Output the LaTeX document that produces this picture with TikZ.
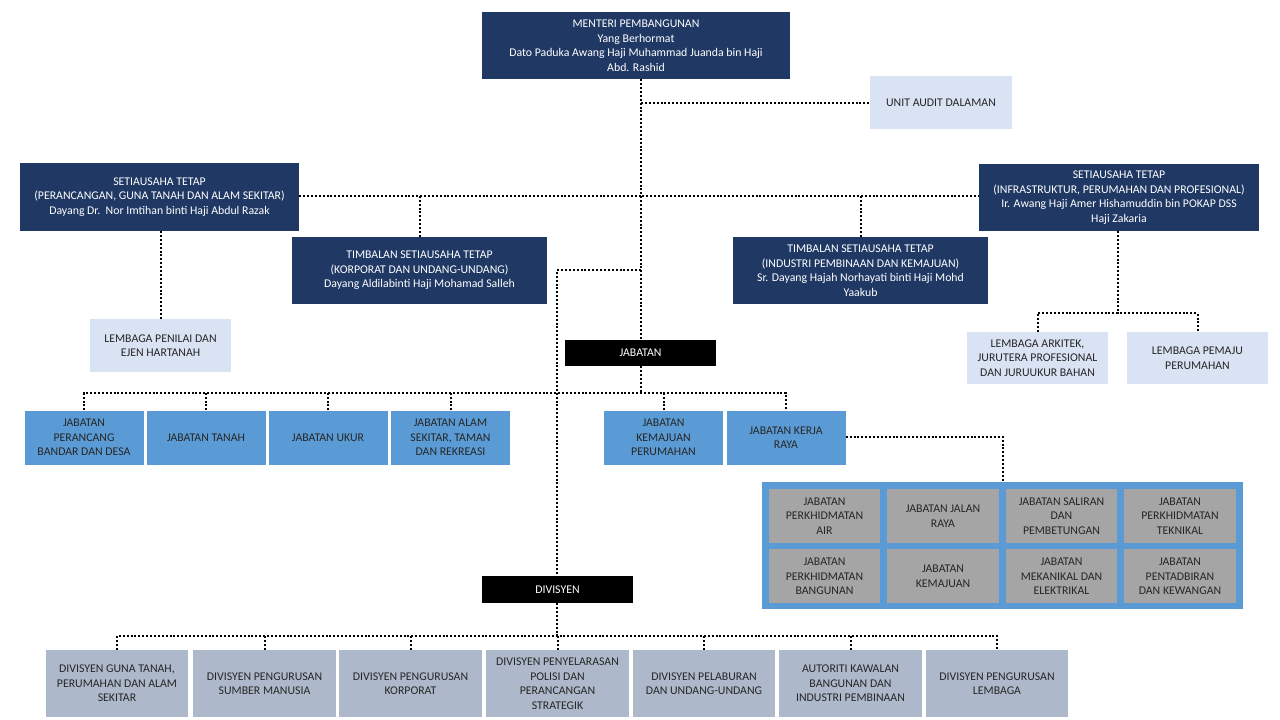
\documentclass[tikz,border=0pt]{standalone}
\usepackage{fontspec}
\setmainfont{Carlito}
\definecolor{navy}{HTML}{203864}
\definecolor{lblue}{HTML}{DAE3F3}
\definecolor{mblue}{HTML}{5B9BD5}
\definecolor{greyb}{HTML}{A5A5A5}
\definecolor{divb}{HTML}{ADB9CA}
\definecolor{txt}{HTML}{262626}
\begin{document}
\begin{tikzpicture}[x=1pt,y=-1pt,
  base/.style={inner sep=0pt, align=center, font=\fontsize{11.8}{14.5}\selectfont},
  dark/.style={base, fill=navy, text=white},
  light/.style={base, fill=lblue, text=txt},
  mid/.style={base, fill=mblue, text=txt, minimum width=119pt, minimum height=54pt},
  greybox/.style={base, fill=greyb, text=txt, minimum width=111.5pt, minimum height=54pt},
  divbox/.style={base, fill=divb, text=txt, minimum width=142.5pt, minimum height=67pt},
  blk/.style={base, fill=black, text=white, minimum width=151pt, minimum height=26pt},
  conn/.style={draw=black, line width=2pt, dash pattern=on 2pt off 1.9pt}]
\useasboundingbox[fill=white] (0,0) rectangle (1280,720);

% top
\node[dark, minimum width=308pt, minimum height=67pt] (menteri) at (636,45.5)
  {MENTERI PEMBANGUNAN\\Yang Berhormat\\Dato Paduka Awang Haji Muhammad Juanda bin Haji\\Abd. Rashid};
\node[light, minimum width=142pt, minimum height=53pt] (audit) at (941,102.5) {UNIT AUDIT DALAMAN};

\node[dark, minimum width=279pt, minimum height=68pt] (lset) at (159.5,197)
  {SETIAUSAHA TETAP\\(PERANCANGAN, GUNA TANAH DAN ALAM SEKITAR)\\Dayang Dr.\ \ Nor Imtihan binti Haji Abdul Razak};
\node[dark, minimum width=280pt, minimum height=67pt] (rset) at (1119,197.5)
  {SETIAUSAHA TETAP\\(INFRASTRUKTUR, PERUMAHAN DAN PROFESIONAL)\\Ir. Awang Haji Amer Hishamuddin bin POKAP DSS\\Haji Zakaria};
\node[dark, minimum width=255pt, minimum height=67pt] (ltimb) at (419.5,270.5)
  {TIMBALAN SETIAUSAHA TETAP\\(KORPORAT DAN UNDANG-UNDANG)\\Dayang Aldilabinti Haji Mohamad Salleh};
\node[dark, minimum width=255pt, minimum height=67pt] (rtimb) at (860.5,270.5)
  {TIMBALAN SETIAUSAHA TETAP\\(INDUSTRI PEMBINAAN DAN KEMAJUAN)\\Sr. Dayang Hajah Norhayati binti Haji Mohd\\Yaakub};

\node[light, minimum width=141pt, minimum height=53pt] (penilai) at (160.5,345.5) {LEMBAGA PENILAI DAN\\EJEN HARTANAH};
\node[light, minimum width=141pt, minimum height=52pt] (arkitek) at (1037.5,358) {LEMBAGA ARKITEK,\\JURUTERA PROFESIONAL\\DAN JURUUKUR BAHAN};
\node[light, minimum width=141pt, minimum height=52pt] (pemaju) at (1197.5,358) {LEMBAGA PEMAJU\\PERUMAHAN};

\node[blk] (jab) at (640.5,353) {JABATAN};

% jabatan row
\node[mid] (ja1) at (84,437.5) {JABATAN\\PERANCANG\\BANDAR DAN DESA};
\node[mid] (ja2) at (206,437.5) {JABATAN TANAH};
\node[mid] (ja3) at (328,437.5) {JABATAN UKUR};
\node[mid] (ja4) at (450.5,437.5) {JABATAN ALAM\\SEKITAR, TAMAN\\DAN REKREASI};
\node[mid] (ja5) at (663.5,437.5) {JABATAN\\KEMAJUAN\\PERUMAHAN};
\node[mid] (ja6) at (786,437.5) {JABATAN KERJA\\RAYA};

% container
\node[fill=mblue, inner sep=0pt, minimum width=481pt, minimum height=127pt] (cont) at (1002.5,545.7) {};
\node[greybox] (g1) at (824.5,516) {JABATAN\\PERKHIDMATAN\\AIR};
\node[greybox] (g2) at (943,516) {JABATAN JALAN\\RAYA};
\node[greybox] (g3) at (1061.5,516) {JABATAN SALIRAN\\DAN\\PEMBETUNGAN};
\node[greybox] (g4) at (1180,516) {JABATAN\\PERKHIDMATAN\\TEKNIKAL};
\node[greybox] (g5) at (824.5,576.3) {JABATAN\\PERKHIDMATAN\\BANGUNAN};
\node[greybox] (g6) at (943,576.3) {JABATAN\\KEMAJUAN};
\node[greybox] (g7) at (1061.5,576.3) {JABATAN\\MEKANIKAL DAN\\ELEKTRIKAL};
\node[greybox] (g8) at (1180,576.3) {JABATAN\\PENTADBIRAN\\DAN KEWANGAN};

% divisyen
\node[blk, minimum width=151pt, minimum height=27pt] (div) at (557.5,589.5) {DIVISYEN};
\node[divbox] (dv1) at (117,683.5) {DIVISYEN GUNA TANAH,\\PERUMAHAN DAN ALAM\\SEKITAR};
\node[divbox] (dv2) at (264.5,683.5) {DIVISYEN PENGURUSAN\\SUMBER MANUSIA};
\node[divbox] (dv3) at (410.5,683.5) {DIVISYEN PENGURUSAN\\KORPORAT};
\node[divbox] (dv4) at (557.5,683.5) {DIVISYEN PENYELARASAN\\POLISI DAN\\PERANCANGAN\\STRATEGIK};
\node[divbox] (dv5) at (704,683.5) {DIVISYEN PELABURAN\\DAN UNDANG-UNDANG};
\node[divbox] (dv6) at (850.5,683.5) {AUTORITI KAWALAN\\BANGUNAN DAN\\INDUSTRI PEMBINAAN};
\node[divbox] (dv7) at (997,683.5) {DIVISYEN PENGURUSAN\\LEMBAGA};

% junction coordinates
\coordinate (s1) at (641,196);
\coordinate (s2) at (557,270);
\coordinate (r1) at (1118,313);
\coordinate (j1) at (641,393);
\coordinate (k1) at (1003,437);
\coordinate (d1) at (557,636);

% connectors
\draw[conn] (menteri.south -| s1) -- (jab.north -| s1);
\draw[conn] (s1 |- audit.west) -- (audit.west);
\draw[conn] (lset.east |- s1) -- (rset.west |- s1);
\draw[conn] (ltimb.north) -- (ltimb.north |- s1);
\draw[conn] (rtimb.north) -- (rtimb.north |- s1);
\draw[conn] (penilai.north) -- (penilai.north |- lset.south);
\draw[conn] (rset.south -| r1) -- (r1);
\draw[conn] (arkitek.north) |- (r1) -| (pemaju.north);
\draw[conn] (s1 |- s2) -- (s2) -- (div.north -| s2);
\draw[conn] (jab.south -| j1) -- (j1);
\draw[conn] (ja1.north) |- (j1) -| (ja6.north);
\foreach \n in {ja2,ja3,ja4,ja5} \draw[conn] (\n.north) -- (\n.north |- j1);
\draw[conn] (ja6.east |- k1) -| (cont.north -| k1);
\draw[conn] (div.south -| d1) -- (d1);
\draw[conn] (dv1.north) |- (d1) -| (dv7.north);
\foreach \n in {dv2,dv3,dv4,dv5,dv6} \draw[conn] (\n.north) -- (\n.north |- d1);
\end{tikzpicture}
\end{document}
